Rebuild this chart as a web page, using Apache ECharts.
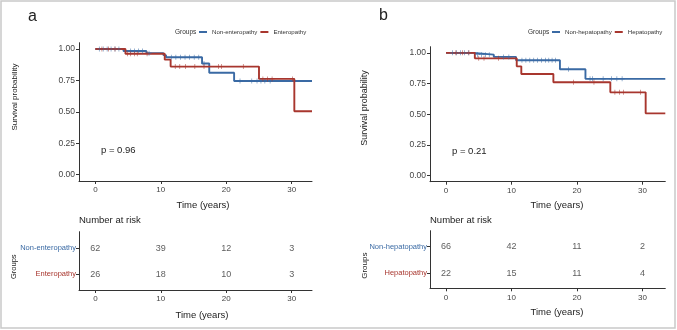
<!DOCTYPE html>
<html>
<head>
<meta charset="utf-8">
<script src="https://cdn.jsdelivr.net/npm/echarts@6/dist/echarts.min.js"></script>
<style>html,body{margin:0;padding:0;background:#fff;}#c{width:677px;height:330px;}</style>
</head>
<body>
<div id="c"></div>
<script>
// ---------- data ----------
const TIME_TICKS = [0, 10, 20, 30];
const SURV_TICKS = [0, 0.25, 0.5, 0.75, 1];

// Panel a
const A_NON_T = [0, 4.3, 7.8, 10.4, 10.8, 16.3, 17.4, 21.2];
const A_NON_S = [1, 0.984, 0.967, 0.951, 0.934, 0.885, 0.811, 0.745];
const A_NON_END = 33.1;
const A_NON_CENSOR = [0.6, 1.2, 1.8, 2.4, 3.0, 3.6, 5.4, 6.0, 6.6, 7.2, 8.2, 11.6, 12.3, 13.0, 13.7, 14.4, 15.1, 15.8, 16.6, 22.1, 23.9, 24.7, 25.3, 25.9, 26.7];
const A_ENT_T = [0, 4.6, 10.6, 11.5, 25.0, 30.4];
const A_ENT_S = [1, 0.962, 0.915, 0.86, 0.762, 0.505];
const A_ENT_END = 33.1;
const A_ENT_CENSOR = [1.0, 2.0, 3.0, 4.9, 5.4, 6.0, 6.4, 7.9, 12.2, 12.9, 13.8, 15.2, 16.6, 18.8, 19.3, 22.6, 25.6, 26.3, 27.0, 30.1];
const A_RISK_NON = [62, 39, 12, 3];
const A_RISK_ENT = [26, 18, 10, 3];
const A_P = 'p = 0.96';
const A_GROUPS = ['Non-enteropathy', 'Enteropathy'];

// Panel b
const B_NON_T = [0, 4.2, 7.3, 10.7, 17.4, 21.3];
const B_NON_S = [1, 0.985, 0.967, 0.94, 0.866, 0.788];
const B_NON_END = 33.5;
const B_NON_CENSOR = [1.0, 1.6, 2.2, 2.8, 3.4, 4.8, 5.4, 6.0, 6.6, 8.8, 9.6, 11.6, 12.2, 12.8, 13.4, 14.0, 14.6, 15.2, 15.7, 16.2, 16.7, 18.7, 22.0, 22.4, 24.0, 25.3, 26.1, 26.9];
const B_HEP_T = [0, 4.4, 10.8, 11.5, 16.4, 25.1, 30.5];
const B_HEP_S = [1, 0.955, 0.89, 0.827, 0.76, 0.678, 0.507];
const B_HEP_END = 33.5;
const B_HEP_CENSOR = [1.5, 2.5, 3.5, 5.0, 5.8, 8.0, 19.5, 22.6, 25.8, 26.5, 27.1, 29.7];
const B_RISK_NON = [66, 42, 11, 2];
const B_RISK_HEP = [22, 15, 11, 4];
const B_P = 'p = 0.21';
const B_GROUPS = ['Non-hepatopathy', 'Hepatopathy'];

// ---------- styling ----------
const BLUE = '#3a6aa4';
const RED = '#a8362e';
const AXIS = '#333';
const TICKC = '#444';
const FONT = "'Liberation Sans', Arial, sans-serif";
const PLUS = 'path://M-0.13,-1H0.13V-0.13H1V0.13H0.13V1H-0.13V0.13H-1V-0.13H-0.13Z';

function stepData(times, surv, end) {
  const d = times.map((t, i) => [t, surv[i]]);
  d.push([end, surv[surv.length - 1]]);
  return d;
}
function survAt(times, surv, t) {
  let s = surv[0];
  for (let i = 0; i < times.length; i++) if (times[i] <= t) s = surv[i];
  return s;
}
function censorData(times, surv, cens) {
  return cens.map(t => [t, survAt(times, surv, t)]);
}
function riskData(counts, row) {
  return TIME_TICKS.map((t, i) => [t, row, counts[i]]);
}

const grids = [
  {left: 79, top: 42.7, width: 233, height: 138.3},
  {left: 79, top: 231.7, width: 233, height: 58.3},
  {left: 430, top: 46.7, width: 235.3, height: 135},
  {left: 430, top: 230.7, width: 235.3, height: 57.6}
];

function xAxisCfg(gi, min, max) {
  return {
    type: 'value', gridIndex: gi, min: min, max: max,
    axisLine: {show: true, onZero: false, lineStyle: {color: AXIS, width: 1}},
    axisTick: {show: true, length: 3, lineStyle: {color: AXIS}, customValues: TIME_TICKS},
    axisLabel: {color: TICKC, fontSize: 8, fontFamily: FONT, margin: 5, customValues: TIME_TICKS},
    splitLine: {show: false}
  };
}
function ySurvCfg(gi) {
  return {
    type: 'value', gridIndex: gi, min: -0.05, max: 1.05,
    axisLine: {show: true, onZero: false, lineStyle: {color: AXIS, width: 1}},
    axisTick: {show: true, length: 3, lineStyle: {color: AXIS}, customValues: SURV_TICKS},
    axisLabel: {color: TICKC, fontSize: 8.5, fontFamily: FONT, margin: 4, customValues: SURV_TICKS,
      formatter: v => v.toFixed(2)},
    splitLine: {show: false}
  };
}
function yRiskCfg(gi, min, max, names) {
  return {
    type: 'value', gridIndex: gi, min: min, max: max,
    axisLine: {show: true, onZero: false, lineStyle: {color: AXIS, width: 1}},
    axisTick: {show: true, length: 3, lineStyle: {color: AXIS}, customValues: [1, 2]},
    axisLabel: {fontSize: 7.5, fontFamily: FONT, margin: 3, customValues: [1, 2],
      formatter: v => v === 2 ? '{n|' + names[0] + '}' : '{e|' + names[1] + '}',
      rich: {n: {color: BLUE, fontSize: 7.5, fontFamily: FONT}, e: {color: RED, fontSize: 7.5, fontFamily: FONT}}},
    splitLine: {show: false}
  };
}

function kmSeries(name, color, xi, times, surv, end, cens) {
  return [
    {name: name, type: 'line', step: 'end', xAxisIndex: xi, yAxisIndex: xi, showSymbol: false, symbol: 'none',
     data: stepData(times, surv, end), lineStyle: {color: color, width: 1.9}, itemStyle: {color: color},
     animation: false, z: 3},
    {name: name, type: 'scatter', xAxisIndex: xi, yAxisIndex: xi, symbol: PLUS, symbolSize: 5,
     data: censorData(times, surv, cens), itemStyle: {color: color}, animation: false, z: 4}
  ];
}
function riskSeries(xi, counts, row) {
  return {
    type: 'scatter', xAxisIndex: xi, yAxisIndex: xi, symbolSize: 0,
    data: riskData(counts, row),
    label: {show: true, position: 'inside', formatter: p => String(p.value[2]),
      color: '#333', fontSize: 9, fontFamily: FONT},
    animation: false
  };
}

function txt(x, y, text, size, extra) {
  return {
    type: 'text', x: x, y: y,
    style: Object.assign({text: text, fontSize: size, fontFamily: FONT, fill: '#222',
      align: 'left', verticalAlign: 'middle'}, extra || {})
  };
}
function rot(x, y, text, size) {
  return {type: 'text', x: x, y: y, rotation: Math.PI / 2,
    style: {text: text, fontSize: size, fontFamily: FONT, fill: '#222', align: 'center', verticalAlign: 'middle'}};
}

const option = {
  backgroundColor: '#fff',
  animation: false,
  grid: grids,
  xAxis: [xAxisCfg(0, -2.5, A_NON_END), xAxisCfg(1, -2.5, A_NON_END), xAxisCfg(2, -2.45, B_NON_END), xAxisCfg(3, -2.45, B_NON_END)],
  yAxis: [ySurvCfg(0), yRiskCfg(1, 0.38, 2.65, A_GROUPS), ySurvCfg(2), yRiskCfg(3, 0.436, 2.6, B_GROUPS)],
  legend: [
    {left: 199, top: 29, width: 200, orient: 'horizontal', icon: 'rect', itemWidth: 8, itemHeight: 2, itemGap: 3,
     padding: 0, data: A_GROUPS, textStyle: {fontSize: 6.1, fontFamily: FONT, color: '#333'}},
    {left: 552, top: 29, width: 200, orient: 'horizontal', icon: 'rect', itemWidth: 8, itemHeight: 2, itemGap: 3,
     padding: 0, data: B_GROUPS, textStyle: {fontSize: 6.1, fontFamily: FONT, color: '#333'}}
  ],
  series: [].concat(
    kmSeries(A_GROUPS[0], BLUE, 0, A_NON_T, A_NON_S, A_NON_END, A_NON_CENSOR),
    kmSeries(A_GROUPS[1], RED, 0, A_ENT_T, A_ENT_S, A_ENT_END, A_ENT_CENSOR),
    kmSeries(B_GROUPS[0], BLUE, 2, B_NON_T, B_NON_S, B_NON_END, B_NON_CENSOR),
    kmSeries(B_GROUPS[1], RED, 2, B_HEP_T, B_HEP_S, B_HEP_END, B_HEP_CENSOR),
    [riskSeries(1, A_RISK_NON, 2), riskSeries(1, A_RISK_ENT, 1),
     riskSeries(3, B_RISK_NON, 2), riskSeries(3, B_RISK_HEP, 1)]
  ),
  graphic: [
    {type: 'rect', shape: {x: 1, y: 1, width: 674, height: 327}, style: {fill: 'none', stroke: '#c9c9c9', lineWidth: 1.5}, z: 100},
    txt(28, 17, 'a', 16),
    txt(379, 16, 'b', 16),
    txt(175, 32.5, 'Groups', 6.5, {fill: '#333'}),
    txt(528, 32.3, 'Groups', 6.5, {fill: '#333'}),
    rot(15, 97, 'Survival probability', 8),
    rot(365, 108, 'Survival probability', 9),
    txt(101, 150, A_P, 9.5),
    txt(452, 151.7, B_P, 9.5),
    txt(203, 205, 'Time (years)', 9.5, {align: 'center'}),
    txt(557, 205, 'Time (years)', 9.5, {align: 'center'}),
    txt(79, 220.5, 'Number at risk', 9.5),
    txt(430, 220, 'Number at risk', 9.5),
    txt(202, 315, 'Time (years)', 9.5, {align: 'center'}),
    txt(557, 312.7, 'Time (years)', 9.5, {align: 'center'}),
    rot(14, 266.7, 'Groups', 7.5),
    rot(365, 265.7, 'Groups', 8)
  ]
};

const chart = echarts.init(document.getElementById('c'), null, {renderer: 'canvas'});
chart.setOption(option);
</script>
</body>
</html>
